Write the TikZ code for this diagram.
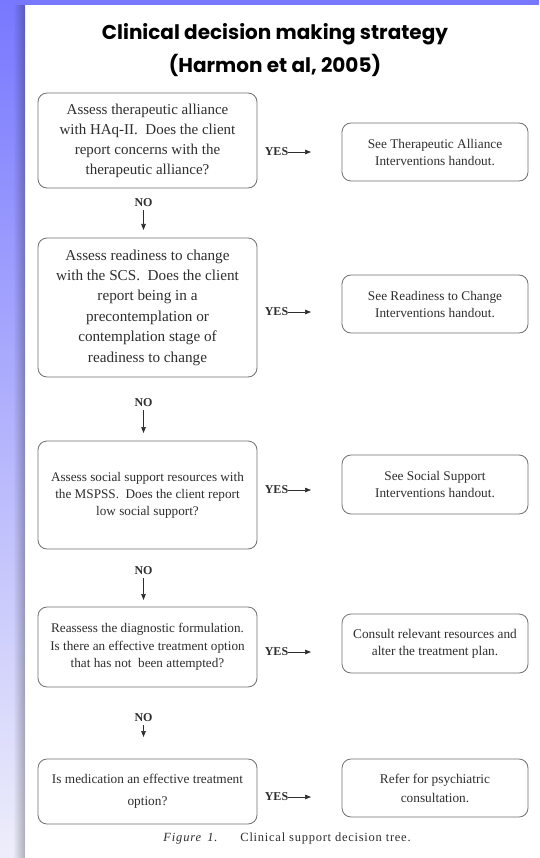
\documentclass[tikz,border=0pt]{standalone}
\usepackage{fontspec}
\setmainfont{Liberation Serif}
\newfontfamily\titlefont{Poppins}
\usetikzlibrary{arrows.meta}
\definecolor{bandblue}{HTML}{7878FF}
\definecolor{bandlight}{HTML}{EEEEFB}
\definecolor{boxline}{HTML}{707070}
\definecolor{txt}{HTML}{2E2E2E}
\begin{document}
\begin{tikzpicture}[x=1pt,y=-1pt,
  qbox/.style={draw=boxline, line width=0.8pt, rounded corners=9pt, minimum width=219pt, align=center, inner sep=0pt, text=txt},
  abox/.style={draw=boxline, line width=0.8pt, rounded corners=9pt, minimum width=186pt, align=center, inner sep=0pt, text=txt, font=\fontsize{13.3}{17}\selectfont},
  yeslab/.style={font=\fontsize{12}{14}\selectfont\bfseries, inner sep=0pt, text=txt},
  nolab/.style={font=\fontsize{12}{14}\selectfont\bfseries, inner sep=0pt, text=txt},
  arr/.style={-{Triangle[length=6pt,width=4.5pt]}, line width=0.7pt, draw=txt}
]
\useasboundingbox (0,0) rectangle (539,858);
\fill[white] (0,0) rectangle (539,858);
\shade[top color=bandblue, bottom color=bandlight] (0,0) rectangle (25,858);
\foreach \i in {0,...,11}{
  \fill[black, opacity=0.022*\i] (13+\i,5) rectangle (14+\i,858);
}
\fill[bandblue] (0,0) rectangle (539,5);

\node[font=\titlefont\bfseries\fontsize{20}{33}\selectfont, align=center] (title) at (275,50) {Clinical decision making strategy\\(Harmon et al, 2005)};

% left question boxes
\node[qbox, minimum height=95pt, font=\fontsize{15}{20}\selectfont] (q1) at (147.5,140.5) {Assess therapeutic alliance\\with HAq-II.\ \ Does the client\\report concerns with the\\therapeutic alliance?};
\node[qbox, minimum height=139pt, font=\fontsize{15.2}{20.4}\selectfont] (q2) at (147.5,307.5) {Assess readiness to change\\with the SCS.\ \ Does the client\\report being in a\\precontemplation or\\contemplation stage of\\readiness to change};
\node[qbox, minimum height=108pt, font=\fontsize{13.2}{17}\selectfont] (q3) at (147.5,495) {Assess social support resources with\\the MSPSS.\ \ Does the client report\\low social support?};
\node[qbox, minimum height=80pt, font=\fontsize{13.2}{17.5}\selectfont] (q4) at (147.5,647) {Reassess the diagnostic formulation.\\Is there an effective treatment option\\that has not\ \ been attempted?};
\node[qbox, minimum height=65pt, font=\fontsize{13.3}{22}\selectfont] (q5) at (147.5,791.5) {Is medication an effective treatment\\option?};

% right answer boxes
\node[abox, minimum height=58pt] (a1) at (435,152) {See Therapeutic Alliance\\Interventions handout.};
\node[abox, minimum height=58pt] (a2) at (435,304) {See Readiness to Change\\Interventions handout.};
\node[abox, minimum height=59pt] (a3) at (435,484.5) {See Social Support\\Interventions handout.};
\node[abox, minimum height=59pt] (a4) at (435,643.5) {Consult relevant resources and\\alter the treatment plan.};
\node[abox, minimum height=58pt, font=\fontsize{13.3}{19}\selectfont] (a5) at (435,788) {Refer for psychiatric\\consultation.};

% YES labels and arrows
\foreach \i/\yy in {1/152,2/312,3/490,4/652,5/797}{
  \node[yeslab] (y\i) at (276.5,\yy) {YES};
  \coordinate (ye\i) at (311,\yy);
  \draw[arr] (y\i.east) -- (ye\i);
}

% NO labels and arrows
\foreach \i/\yy/\ye in {1/203/230,2/403/433,3/571/600,4/718/737}{
  \node[nolab] (n\i) at (143.5,\yy) {NO};
  \coordinate (ne\i) at (143.5,\ye);
  \draw[arr, shorten <=3pt] (n\i.south) -- (ne\i);
}

\node[font=\fontsize{12.5}{14}\selectfont, text=txt] (cap) at (287,838) {{\addfontfeature{LetterSpace=7}\textit{Figure\hspace{6pt}1.}}\hspace{22pt}{\addfontfeature{LetterSpace=6}Clinical support decision tree.}};
\end{tikzpicture}
\end{document}
